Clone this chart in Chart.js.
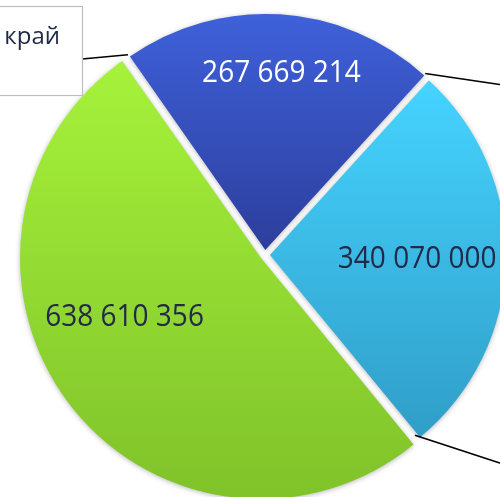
<!DOCTYPE html>
<html><head><meta charset="utf-8">
<script src="https://cdn.jsdelivr.net/npm/chart.js@4"></script>
<style>
html,body{margin:0;padding:0;width:500px;height:497px;overflow:hidden;background:#fff}
#wrap{position:absolute;left:-35px;top:-45px;width:600px;height:600px}
</style>
</head><body>
<div id="wrap"><canvas id="c" width="600" height="600"></canvas></div>
<script>
// ---- data ----
const categories = ['Регион 1', 'Регион 2', 'Красноярский край'];
const values = [267669214, 340070000, 638610356];
const valueLabels = ['267 669 214', '340 070 000', '638 610 356'];
const calloutText = 'Красноярский край';

// ---- styles ----
const gradStops = [
  [[0, '#3f62dc'], [0.5, '#2d3e9c'], [1, '#20286e']],
  [[0, '#4ad9ff'], [0.15, '#45d3ff'], [0.88, '#2f9dc7'], [1, '#2b93bd']],
  [[0, '#aef73e'], [0.1, '#a6f23a'], [1, '#7fc22a']]
];
const labelColors = ['#ffffff', '#222a48', '#222a48'];
const labelPos = [ {rf: 0.775, da: 1.5}, {rf: 0.645, da: 0}, {rf: 0.65, da: 13.5} ];
const PX = 35, PY = 45; // page -> canvas shift
const OFFSET = 20;

function bg(ctx) {
  const chart = ctx.chart, ca = chart.chartArea;
  const stops = gradStops[ctx.dataIndex];
  if (!ca) return stops[0][1];
  const g = chart.ctx.createLinearGradient(0, ca.top, 0, ca.bottom);
  stops.forEach(s => g.addColorStop(s[0], s[1]));
  return g;
}

const decor = {
  id: 'decor',
  beforeDatasetsDraw(chart) {
    const c = chart.ctx;
    c.save();
    c.shadowColor = 'rgba(0,0,0,0.28)';
    c.shadowBlur = 5;
    c.shadowOffsetX = 0;
    c.shadowOffsetY = 1;
  },
  afterDatasetsDraw(chart) {
    const c = chart.ctx;
    c.restore();
    const arcs = chart.getDatasetMeta(0).data;
    const off = OFFSET / 4;
    // labels
    arcs.forEach((a, i) => {
      const p = a.getProps(['x', 'y', 'startAngle', 'endAngle', 'outerRadius'], true);
      const mid = (p.startAngle + p.endAngle) / 2 + labelPos[i].da * Math.PI / 180;
      const r = p.outerRadius * labelPos[i].rf;
      const x = p.x + Math.cos(mid) * r, y = p.y + Math.sin(mid) * r;
      c.save();
      c.translate(x, y);
      c.scale(1, 1.13);
      c.font = '28px "Open Sans"';
      c.fillStyle = labelColors[i];
      c.textAlign = 'center';
      c.textBaseline = 'middle';
      c.fillText(valueLabels[i], 0, 0);
      c.restore();
    });
    // leader lines from slice corners
    const pt = (a, ang) => {
      const p = a.getProps(['x', 'y', 'startAngle', 'endAngle', 'outerRadius'], true);
      const mid = (p.startAngle + p.endAngle) / 2;
      return [p.x + Math.cos(ang) * p.outerRadius + Math.cos(mid) * off - 2,
              p.y + Math.sin(ang) * p.outerRadius + Math.sin(mid) * off - 2];
    };
    const b = arcs[0].getProps(['startAngle', 'endAngle'], true);
    const cy = arcs[1].getProps(['startAngle', 'endAngle'], true);
    c.save();
    c.strokeStyle = '#000';
    c.lineWidth = 1.6;
    const p1 = pt(arcs[0], b.startAngle);
    c.beginPath(); c.moveTo(p1[0], p1[1]); c.lineTo(82 + PX, 59 + PY); c.stroke();
    const p2 = pt(arcs[0], b.endAngle);
    c.beginPath(); c.moveTo(p2[0] + 3, p2[1]); c.lineTo(520 + PX, p2[1] + 14); c.stroke();
    const p3 = pt(arcs[1], cy.endAngle);
    c.beginPath(); c.moveTo(p3[0] - 3, p3[1]); c.lineTo(p3[0] + 107, p3[1] + 36); c.stroke();
    // callout box
    c.fillStyle = '#fff';
    c.strokeStyle = '#bdbdbd';
    c.lineWidth = 1.2;
    c.fillRect(-20 + PX, 6 + PY, 102, 89);
    c.strokeRect(-20 + PX + 0.5, 6 + PY + 0.5, 102, 89);
    c.font = '24px "Open Sans"';
    c.fillStyle = '#1f2a44';
    c.textAlign = 'right';
    c.textBaseline = 'alphabetic';
    c.fillText(calloutText, 60 + PX, 44 + PY);
    c.restore();
  }
};

new Chart(document.getElementById('c'), {
  type: 'pie',
  data: {
    labels: categories,
    datasets: [{
      data: values,
      backgroundColor: bg,
      borderColor: 'rgba(0,0,0,0)',
      borderWidth: 0,
      offset: OFFSET,
      hoverOffset: 0
    }]
  },
  options: {
    responsive: false,
    animation: false,
    rotation: -35,
    layout: { padding: 54 },
    plugins: { legend: { display: false }, tooltip: { enabled: false } }
  },
  plugins: [decor]
});
</script>
</body></html>
